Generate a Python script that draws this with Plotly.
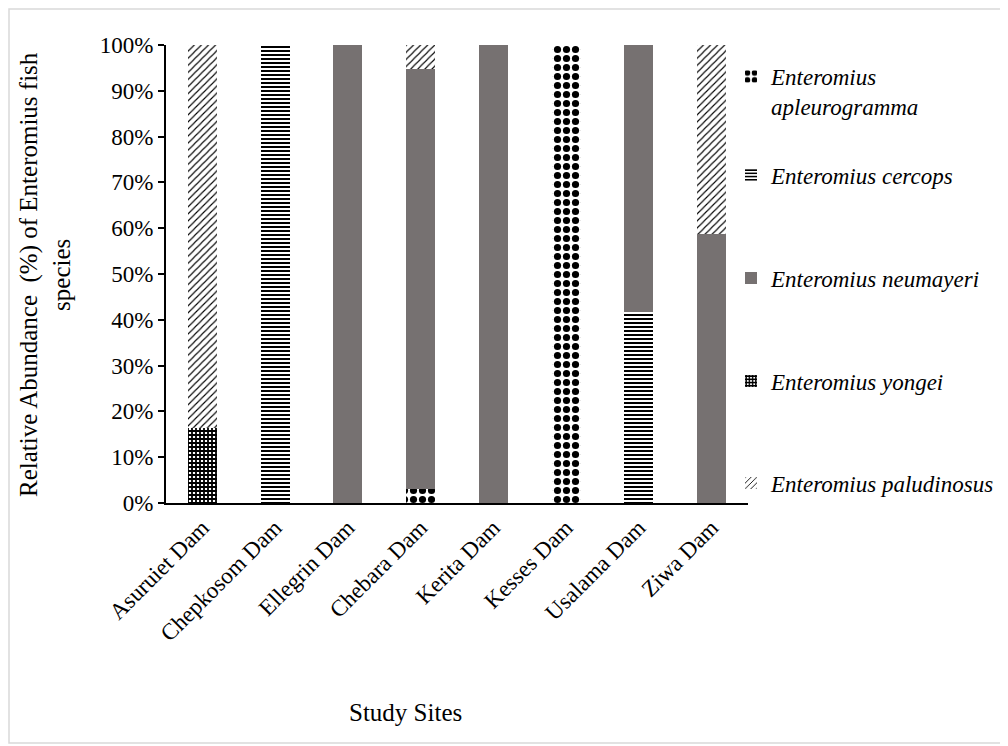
import plotly.graph_objects as go

sites = ["Asuruiet Dam", "Chepkosom Dam", "Ellegrin Dam", "Chebara Dam",
         "Kerita Dam", "Kesses Dam", "Usalama Dam", "Ziwa Dam"]

apleurogramma = [0, 0, 0, 3.1, 0, 100, 0, 0]
cercops = [0, 100, 0, 0, 0, 0, 41.6, 0]
neumayeri = [0, 0, 100, 91.6, 100, 0, 58.4, 58.7]
yongei = [16.4, 0, 0, 0, 0, 0, 0, 0]
paludinosus = [83.6, 0, 0, 5.3, 0, 0, 0, 41.3]

series_names = ["Enteromius<br>apleurogramma", "Enteromius cercops",
                "Enteromius neumayeri", "Enteromius yongei",
                "Enteromius paludinosus"]
y_ticks = [0, 10, 20, 30, 40, 50, 60, 70, 80, 90, 100]
y_ticktext = [f"{v}%" for v in y_ticks]

FONT = "Liberation Serif, Times New Roman, serif"
OFF = 8  # page body margin
W, H = 1000, 738
# plot area in screenshot pixels: x 166-748, y 45-503
L, R, T, B = 166 - OFF, W - (748 - OFF), 45 - OFF, H - (503 - OFF)
pw, ph = W - L - R, H - T - B

def px_x(v):
    return (v - OFF - L) / pw

def px_y(v):
    return (H - B - (v - OFF)) / ph

styles = [
    dict(color="white", pattern=dict(shape=".", fgcolor="black", bgcolor="white",
                                     fgopacity=1, size=9, solidity=0.5)),
    dict(color="white", pattern=dict(shape="-", fgcolor="black", bgcolor="white",
                                     fgopacity=1, size=4, solidity=0.5)),
    dict(color="#767171"),
    dict(color="white", pattern=dict(shape="+", fgcolor="black", bgcolor="white",
                                     fgopacity=1, size=4, solidity=0.7)),
    dict(color="white", pattern=dict(shape="/", fgcolor="black", bgcolor="white",
                                     fgopacity=1, size=5, solidity=0.22)),
]
data = [apleurogramma, cercops, neumayeri, yongei, paludinosus]
legend_centers = [68, 175, 278, 381, 483]

fig = go.Figure()
for i, (name, vals, st) in enumerate(zip(series_names, data, styles)):
    lg = "legend" if i == 0 else f"legend{i+1}"
    fig.add_trace(go.Bar(
        x=sites, y=vals, name=f"<i>{name}</i>", marker=st,
        marker_line_width=0, legend=lg, width=0.4,
    ))

layout_legends = {}
for i, yc in enumerate(legend_centers):
    key = "legend" if i == 0 else f"legend{i+1}"
    layout_legends[key] = dict(
        x=px_x(731), xanchor="left", y=px_y(yc), yanchor="middle",
        font=dict(family=FONT, size=23, color="black"), bgcolor="rgba(0,0,0,0)",
        valign="top", itemwidth=30,
    )
layout_legends["legend"]["yanchor"] = "top"
layout_legends["legend"]["y"] = px_y(55)

fig.update_layout(
    width=W, height=H, barmode="stack",
    margin=dict(l=L, r=R, t=T, b=B, autoexpand=False),
    plot_bgcolor="white", paper_bgcolor="white",
    font=dict(family=FONT, color="black"),
    showlegend=True,
    **layout_legends,
    xaxis=dict(
        showline=True, linecolor="black", linewidth=2, ticks="",
        tickangle=-45, tickfont=dict(family=FONT, size=23, color="black"),
        showgrid=False,
    ),
    yaxis=dict(
        range=[0, 100], tickvals=y_ticks, ticktext=y_ticktext, showline=True,
        linecolor="black", linewidth=2, ticks="outside", ticklen=6, tickwidth=2,
        tickcolor="black", tickfont=dict(family=FONT, size=23, color="black"),
        showgrid=False, zeroline=False,
    ),
    annotations=[
        dict(text="Relative Abundance  (%) of Enteromius fish<br>species",
             xref="paper", yref="paper", x=px_x(45), y=px_y(275), xanchor="center",
             yanchor="middle", textangle=-90, showarrow=False,
             font=dict(family=FONT, size=25, color="black")),
        dict(text="Study Sites", xref="paper", yref="paper", x=px_x(405), y=px_y(712),
             xanchor="center", yanchor="middle", showarrow=False,
             font=dict(family=FONT, size=25, color="black")),
    ],
    shapes=[dict(type="rect", xref="paper", yref="paper",
                 x0=px_x(9), x1=px_x(1004), y0=px_y(743), y1=px_y(9),
                 line=dict(color="#d9d9d9", width=1.5), fillcolor="rgba(0,0,0,0)",
                 layer="below")],
)

fig.write_html("out.html")
